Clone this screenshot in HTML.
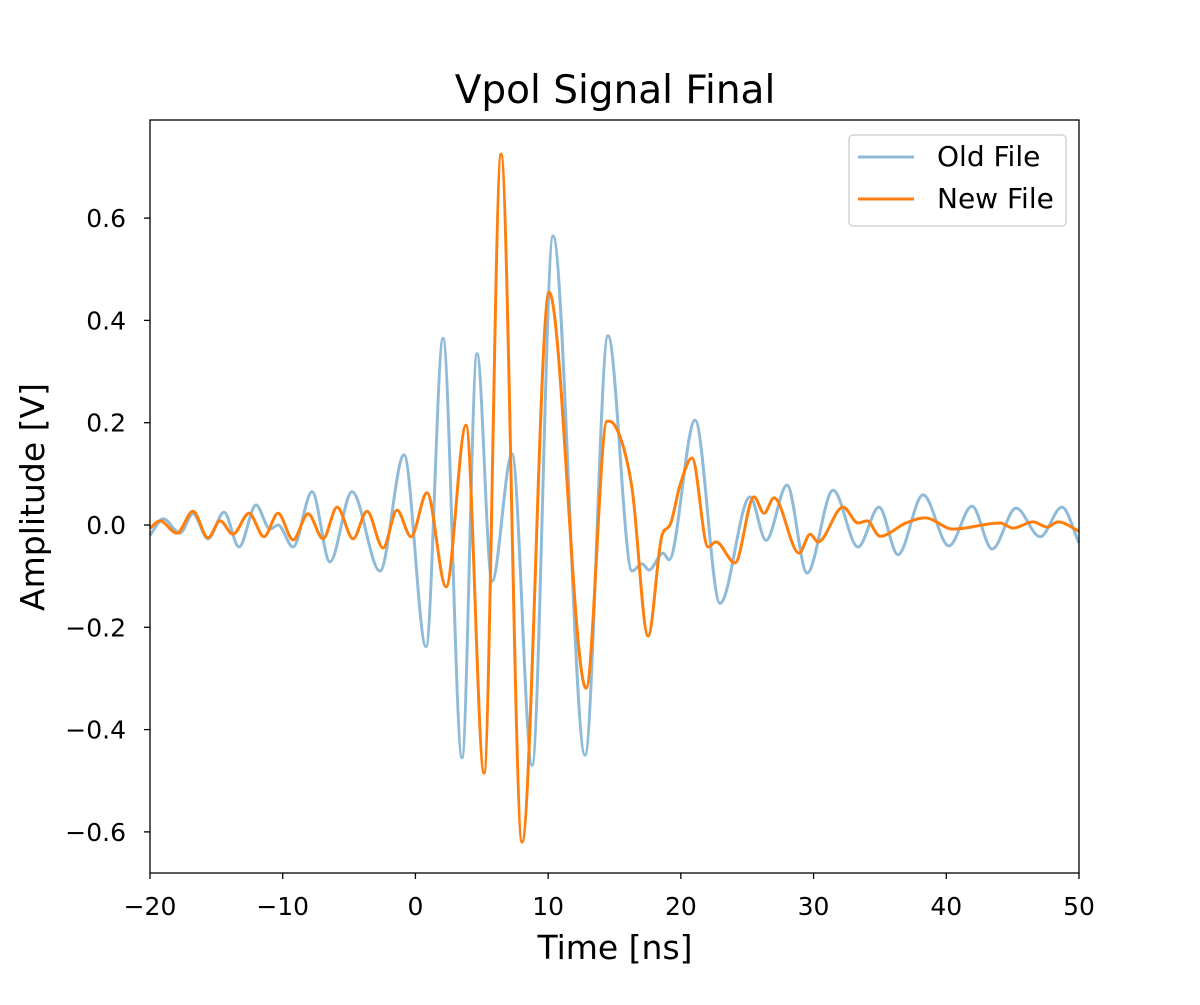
<!DOCTYPE html>
<html><head><meta charset="utf-8"><style>
html,body{margin:0;padding:0;background:#fff;}
svg text{font-family:"DejaVu Sans","Liberation Sans",sans-serif;fill:#000;}
</style></head><body>
<svg id="chart" width="1200" height="1000" viewBox="0 0 1200 1000">
<rect width="1200" height="1000" fill="#fff"/>
<text x="615" y="103" font-size="39" text-anchor="middle">Vpol Signal Final</text>
<g id="plot"></g>
<g id="xticks"></g>
<g id="yticks"></g>
<text x="615" y="959" font-size="33" text-anchor="middle">Time [ns]</text>
<text transform="translate(44,497) rotate(-90)" font-size="33" text-anchor="middle">Amplitude [V]</text>
<rect x="150" y="120" width="929" height="753" fill="none" stroke="#000" stroke-width="1.3"/>
<g>
<rect x="849" y="135" width="217" height="91" rx="4" fill="#fff" fill-opacity="0.8" stroke="#ccc" stroke-width="1.3"/>
<line x1="858" y1="157" x2="914" y2="157" stroke="#1f77b4" stroke-opacity="0.5" stroke-width="3"/>
<text x="937" y="166" font-size="28">Old File</text>
<line x1="858" y1="199" x2="914" y2="199" stroke="#ff7f0e" stroke-width="3"/>
<text x="937" y="208" font-size="28">New File</text>
</g>
</svg>
<script>
const xTicks=[-20,-10,0,10,20,30,40,50];
const yTicks=[-0.6,-0.4,-0.2,0.0,0.2,0.4,0.6];
const oldT=[-20.0,-19.0,-17.74,-16.76,-15.63,-14.42,-13.29,-12.01,-10.96,-10.35,-9.22,-7.79,-6.44,-4.78,-2.67,-0.86,0.80,2.08,3.51,4.64,5.77,7.28,8.79,10.37,12.78,14.51,16.32,17.08,17.60,18.66,19.11,21.07,22.95,25.21,26.42,28.0,29.51,31.47,33.35,34.93,36.36,38.25,40.2,41.94,43.45,45.26,47.07,48.72,50];
const oldV=[-0.02,0.012,-0.016,0.022,-0.027,0.025,-0.043,0.039,-0.008,0.0,-0.043,0.065,-0.072,0.065,-0.09,0.137,-0.238,0.365,-0.455,0.335,-0.11,0.139,-0.47,0.565,-0.45,0.37,-0.09,-0.076,-0.088,-0.055,-0.068,0.205,-0.153,0.055,-0.03,0.078,-0.094,0.068,-0.043,0.035,-0.058,0.059,-0.041,0.037,-0.047,0.033,-0.023,0.035,-0.035];
const newT=[-20,-19.25,-17.97,-16.76,-15.63,-14.72,-13.75,-12.54,-11.41,-10.35,-9.22,-8.09,-6.96,-5.9,-4.7,-3.65,-2.44,-1.39,-0.33,0.87,2.31,3.81,5.17,6.45,8.03,10.07,12.86,14.44,15.04,16.32,17.53,18.58,19.18,19.94,20.84,22.05,22.65,24.08,25.51,26.27,27.02,28.91,29.74,30.34,32.22,33.35,34.03,35.01,36.97,38.4,40.51,44.05,45.03,46.54,47.59,48.42,50];
const newV=[-0.006,0.008,-0.016,0.027,-0.025,0.008,-0.018,0.023,-0.023,0.023,-0.029,0.022,-0.027,0.035,-0.027,0.027,-0.045,0.029,-0.023,0.063,-0.121,0.195,-0.485,0.725,-0.62,0.455,-0.319,0.203,0.194,0.072,-0.217,-0.02,0.0,0.078,0.131,-0.043,-0.033,-0.074,0.055,0.023,0.053,-0.055,-0.018,-0.033,0.035,0.004,0.008,-0.022,0.004,0.014,-0.008,0.004,-0.006,0.006,-0.004,0.006,-0.012];
const X0=150,X1=1079,Y0=873,Y1=120;
const xs=t=>X0+(t+20)/70*(X1-X0);
const ys=v=>525-v*511.5;
const NS='http://www.w3.org/2000/svg';
function mk(tag,attrs,parent){const e=document.createElementNS(NS,tag);for(const k in attrs)e.setAttribute(k,attrs[k]);parent.appendChild(e);return e;}
function monoPath(px,py){
  const n=px.length,d=[],m=[];
  for(let i=0;i<n-1;i++)d.push((py[i+1]-py[i])/(px[i+1]-px[i]));
  m[0]=d[0];m[n-1]=d[n-2];
  for(let i=1;i<n-1;i++){m[i]=(d[i-1]*d[i]<=0)?0:(d[i-1]+d[i])/2;}
  for(let i=0;i<n-1;i++){if(d[i]===0){m[i]=0;m[i+1]=0;continue;}const a=m[i]/d[i],b=m[i+1]/d[i],s=a*a+b*b;if(s>9){const t=3/Math.sqrt(s);m[i]=t*a*d[i];m[i+1]=t*b*d[i];}}
  let p='M'+px[0]+','+py[0];
  for(let i=0;i<n-1;i++){const h=(px[i+1]-px[i])/3;p+=' C'+(px[i]+h)+','+(py[i]+m[i]*h)+' '+(px[i+1]-h)+','+(py[i+1]-m[i+1]*h)+' '+px[i+1]+','+py[i+1];}
  return p;
}
const plot=document.getElementById('plot');
const oldLine=mk('path',{d:monoPath(oldT.map(xs),oldV.map(ys)),fill:'none',stroke:'#1f77b4','stroke-opacity':0.5,'stroke-width':3},plot);


const newLine=mk('path',{d:monoPath(newT.map(xs),newV.map(ys)),fill:'none',stroke:'#ff7f0e','stroke-width':3},plot);


const xg=document.getElementById('xticks');
xTicks.forEach(t=>{const x=xs(t);
  const l=mk('line',{x1:x,y1:Y0,x2:x,y2:Y0+6,stroke:'#000','stroke-width':1.3},xg);
  
  
  const tx=mk('text',{x:x,y:Y0+42,'font-size':25,'text-anchor':'middle'},xg);tx.textContent=(t<0?'\u2212'+(-t):t);
  
  
});
const yg=document.getElementById('yticks');
yTicks.forEach(v=>{const y=ys(v);
  const l=mk('line',{x1:X0-6,y1:y,x2:X0,y2:y,stroke:'#000','stroke-width':1.3},yg);
  
  
  const tx=mk('text',{x:X0-24,y:y+9,'font-size':25,'text-anchor':'end'},yg);tx.textContent=(v<0?'\u2212':'')+Math.abs(v).toFixed(1);
  
  
});
</script>
</body></html>
